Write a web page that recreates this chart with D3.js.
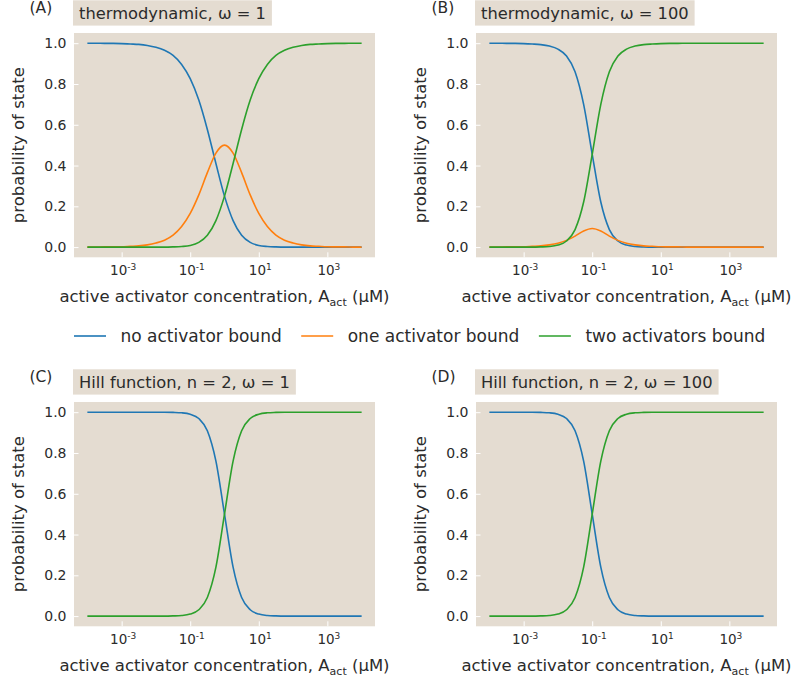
<!DOCTYPE html>
<html>
<head>
<meta charset="utf-8">
<script src="https://cdn.jsdelivr.net/npm/d3@7"></script>
<style>
  html, body { margin: 0; padding: 0; background: #ffffff; }
  svg { display: block; font-family: "DejaVu Sans", sans-serif; }
</style>
</head>
<body>
<svg id="fig" width="796" height="681"></svg>
<script>
// Activator concentration (µM), 10^-4 … 10^4 in quarter-decade steps
const conc = [1e-4, 1.78e-4, 3.16e-4, 5.62e-4, 1e-3, 1.78e-3, 3.16e-3, 5.62e-3,
  1e-2, 1.78e-2, 3.16e-2, 5.62e-2, 0.1, 0.178, 0.316, 0.562, 1, 1.78, 3.16, 5.62,
  10, 17.8, 31.6, 56.2, 100, 178, 316, 562, 1000, 1780, 3160, 5620, 10000];

// (A) thermodynamic model, ω = 1
const thermo1None = [1.000, 1.000, 0.999, 0.999, 0.998, 0.996, 0.994, 0.989, 0.980, 0.965, 0.940,
  0.896, 0.826, 0.721, 0.577, 0.410, 0.250, 0.130, 0.058, 0.023, 0.008, 0.003, 0.001, 0.000,
  0.000, 0.000, 0.000, 0.000, 0.000, 0.000, 0.000, 0.000, 0.000];
const thermo1One = [0.000, 0.000, 0.001, 0.001, 0.002, 0.004, 0.006, 0.011, 0.020, 0.034, 0.059,
  0.101, 0.165, 0.256, 0.365, 0.461, 0.500, 0.461, 0.365, 0.256, 0.165, 0.101, 0.059, 0.034,
  0.020, 0.011, 0.006, 0.004, 0.002, 0.001, 0.001, 0.000, 0.000];
const thermo1Two = [0.000, 0.000, 0.000, 0.000, 0.000, 0.000, 0.000, 0.000, 0.000, 0.000, 0.001,
  0.003, 0.008, 0.023, 0.058, 0.130, 0.250, 0.410, 0.577, 0.721, 0.826, 0.896, 0.940, 0.965,
  0.980, 0.989, 0.994, 0.996, 0.998, 0.999, 0.999, 1.000, 1.000];

// (B) thermodynamic model, ω = 100
const thermo100None = [1.000, 1.000, 0.999, 0.999, 0.998, 0.996, 0.993, 0.986, 0.971, 0.937, 0.860,
  0.700, 0.455, 0.221, 0.086, 0.030, 0.010, 0.003, 0.001, 0.000, 0.000, 0.000, 0.000, 0.000,
  0.000, 0.000, 0.000, 0.000, 0.000, 0.000, 0.000, 0.000, 0.000];
const thermo100One = [0.000, 0.000, 0.001, 0.001, 0.002, 0.004, 0.006, 0.011, 0.019, 0.033, 0.054,
  0.079, 0.091, 0.079, 0.054, 0.033, 0.019, 0.011, 0.006, 0.004, 0.002, 0.001, 0.001, 0.000,
  0.000, 0.000, 0.000, 0.000, 0.000, 0.000, 0.000, 0.000, 0.000];
const thermo100Two = [0.000, 0.000, 0.000, 0.000, 0.000, 0.000, 0.001, 0.003, 0.010, 0.030, 0.086,
  0.221, 0.455, 0.700, 0.860, 0.937, 0.971, 0.986, 0.993, 0.996, 0.998, 0.999, 0.999, 1.000,
  1.000, 1.000, 1.000, 1.000, 1.000, 1.000, 1.000, 1.000, 1.000];

// (C) Hill function, n = 2, ω = 1
const hill1None = [1.000, 1.000, 1.000, 1.000, 1.000, 1.000, 1.000, 1.000, 1.000, 1.000, 0.999,
  0.997, 0.990, 0.969, 0.909, 0.760, 0.500, 0.240, 0.091, 0.031, 0.010, 0.003, 0.001, 0.000,
  0.000, 0.000, 0.000, 0.000, 0.000, 0.000, 0.000, 0.000, 0.000];
const hill1Two = [0.000, 0.000, 0.000, 0.000, 0.000, 0.000, 0.000, 0.000, 0.000, 0.000, 0.001,
  0.003, 0.010, 0.031, 0.091, 0.240, 0.500, 0.760, 0.909, 0.969, 0.990, 0.997, 0.999, 1.000,
  1.000, 1.000, 1.000, 1.000, 1.000, 1.000, 1.000, 1.000, 1.000];

// (D) Hill function, n = 2, ω = 100
const hill100None = [1.000, 1.000, 1.000, 1.000, 1.000, 1.000, 0.999, 0.997, 0.990, 0.969, 0.909,
  0.760, 0.500, 0.240, 0.091, 0.031, 0.010, 0.003, 0.001, 0.000, 0.000, 0.000, 0.000, 0.000,
  0.000, 0.000, 0.000, 0.000, 0.000, 0.000, 0.000, 0.000, 0.000];
const hill100Two = [0.000, 0.000, 0.000, 0.000, 0.000, 0.000, 0.001, 0.003, 0.010, 0.031, 0.091,
  0.240, 0.500, 0.760, 0.909, 0.969, 0.990, 0.997, 0.999, 1.000, 1.000, 1.000, 1.000, 1.000,
  1.000, 1.000, 1.000, 1.000, 1.000, 1.000, 1.000, 1.000, 1.000];

const stateNames = ["no activator bound", "one activator bound", "two activators bound"];
const stateColors = ["#1f77b4", "#ff7f0e", "#2ca02c"];

const xTickValues = [1e-3, 1e-1, 1e1, 1e3];
const xTickExponents = ["-3", "-1", "1", "3"];
const yTickValues = [0, 0.2, 0.4, 0.6, 0.8, 1.0];

const panelLabels = ["(A)", "(B)", "(C)", "(D)"];
const panelTitles = ["thermodynamic, ω = 1", "thermodynamic, ω = 100",
  "Hill function, n = 2, ω = 1", "Hill function, n = 2, ω = 100"];
const panelSeries = [
  [thermo1None, thermo1One, thermo1Two],
  [thermo100None, thermo100One, thermo100Two],
  [hill1None, null, hill1Two],
  [hill100None, null, hill100Two]
];

const bg = "#e4dcd1";
const ink = "#2b2b2b";

// Layout of the 2×2 grid of plot frames
const frameW = 301, frameH = 224.3;
const frameLefts = [74, 476];
const frameTops = [33, 402];

const svg = d3.select("#fig");

// log-x padding of ~0.39 decade on each side of the data, small y padding
const x = d3.scaleLog()
  .domain([Math.pow(10, -4.39), Math.pow(10, 4.39)])
  .range([0, frameW]);
const y = d3.scaleLinear()
  .domain([-0.05, 1.05])
  .range([frameH, 0]);

const line = d3.line()
  .x(d => x(d[0]))
  .y(d => y(d[1]))
  .curve(d3.curveMonotoneX);

panelTitles.forEach((title, i) => {
  const left = frameLefts[i % 2];
  const top = frameTops[Math.floor(i / 2)];
  const g = svg.append("g").attr("transform", `translate(${left},${top})`);

  // plot frame
  g.append("rect")
    .attr("width", frameW).attr("height", frameH)
    .attr("fill", bg);

  // title box
  const tt = g.append("text")
    .attr("x", 5).attr("y", -14)
    .attr("font-size", 16.3).attr("fill", ink)
    .text(title);
  const tw = tt.node().getComputedTextLength();
  g.insert("rect", "text")
    .attr("x", -1).attr("y", -32.7)
    .attr("width", tw + 12).attr("height", 25.3)
    .attr("fill", bg);

  // panel label
  g.append("text")
    .attr("x", 29.5 - 74).attr("y", -20)
    .attr("font-size", 15.5).attr("fill", ink)
    .text(panelLabels[i]);

  // y axis: white inward ticks, labels outside
  const ya = g.append("g")
    .call(d3.axisLeft(y).tickValues(yTickValues).tickSize(-4.5).tickPadding(7.5)
      .tickFormat(d3.format(".1f")));
  ya.select(".domain").remove();
  ya.selectAll(".tick line").attr("stroke", "#ffffff").attr("stroke-width", 1);
  ya.selectAll(".tick text").attr("font-size", 14).attr("fill", ink)
    .attr("font-family", "DejaVu Sans, sans-serif");

  // x axis: white inward ticks, power-of-ten labels
  const xa = g.append("g").attr("transform", `translate(0,${frameH})`)
    .call(d3.axisBottom(x).tickValues(xTickValues).tickSize(-5).tickFormat(""));
  xa.select(".domain").remove();
  xa.selectAll(".tick line").attr("stroke", "#ffffff").attr("stroke-width", 1);
  xa.selectAll(".tick text").remove();
  xTickValues.forEach((v, k) => {
    const t = g.append("text")
      .attr("x", x(v) + 1.5).attr("y", frameH + 17.7)
      .attr("text-anchor", "middle")
      .attr("font-size", 13.5).attr("fill", ink);
    t.append("tspan").text("10");
    t.append("tspan").attr("dy", -5.5).attr("font-size", 9).text(xTickExponents[k]);
  });

  // axis titles
  const xl = g.append("text")
    .attr("x", frameW / 2).attr("y", frameH + 44.3)
    .attr("text-anchor", "middle")
    .attr("font-size", 16.5).attr("fill", ink);
  xl.append("tspan").text("active activator concentration, A");
  xl.append("tspan").attr("dy", 4.5).attr("font-size", 11).text("act");
  xl.append("tspan").attr("dy", -4.5).text(" (μM)");

  g.append("text")
    .attr("transform", `translate(${23.5 - 74},${frameH / 2}) rotate(-90)`)
    .attr("text-anchor", "middle")
    .attr("font-size", 16.5).attr("fill", ink)
    .text("probability of state");

  // curves
  panelSeries[i].forEach((vals, s) => {
    if (!vals) return;
    g.append("path")
      .datum(conc.map((c, k) => [c, vals[k]]))
      .attr("fill", "none")
      .attr("stroke", stateColors[s])
      .attr("stroke-width", 1.6)
      .attr("d", line);
  });
});

// legend row between the two rows of panels
const legend = svg.append("g").attr("transform", "translate(74,336)");
let lx = 0;
stateNames.forEach((name, s) => {
  legend.append("line")
    .attr("x1", lx).attr("x2", lx + 32)
    .attr("y1", 0).attr("y2", 0)
    .attr("stroke", stateColors[s]).attr("stroke-width", 1.6);
  const t = legend.append("text")
    .attr("x", lx + 46.5).attr("y", 6)
    .attr("font-size", 17).attr("fill", ink)
    .text(name);
  lx += 46.5 + t.node().getComputedTextLength() + 19.5;
});
</script>
</body>
</html>
